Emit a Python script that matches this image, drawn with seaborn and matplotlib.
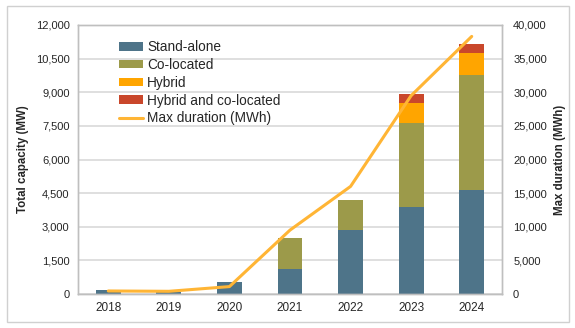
import numpy as np
import pandas as pd
import matplotlib
matplotlib.use("Agg")
import matplotlib.pyplot as plt
import seaborn as sns
from matplotlib.patches import Patch, Rectangle
from matplotlib.lines import Line2D
from matplotlib.ticker import FuncFormatter, MultipleLocator

years = ["2018", "2019", "2020", "2021", "2022", "2023", "2024"]
stand_alone = [160, 110, 520, 1130, 2860, 3880, 4640]
co_located = [0, 0, 0, 1380, 1340, 3750, 5130]
hybrid = [0, 0, 0, 0, 0, 890, 1000]
hybrid_co_located = [0, 0, 0, 0, 0, 420, 370]
max_duration = [450, 400, 1100, 9500, 16000, 29500, 38300]

series_names = ["Stand-alone", "Co-located", "Hybrid", "Hybrid and co-located"]
colors = ["#4E7489", "#9C9A4A", "#FFA500", "#C9472B"]
line_color = "#FFB535"

sns.set_theme(style="white")
plt.rcParams["font.family"] = ["Liberation Sans", "DejaVu Sans"]
txt = "#262626"

fig = plt.figure(figsize=(5.75, 3.28), dpi=100)
fig.patches.append(Rectangle((7 / 575, 6 / 328), 562 / 575, 316 / 328,
                             transform=fig.transFigure, fill=False,
                             edgecolor="#D0D0D0", linewidth=1.0))
ax = fig.add_axes([78 / 575, 34 / 328, 424 / 575, 269 / 328])

layers = [stand_alone, co_located, hybrid, hybrid_co_located]
cum = np.cumsum(np.array(layers, dtype=float), axis=0)
df = pd.DataFrame({"year": years})
for i in range(3, -1, -1):
    df["v"] = cum[i]
    sns.barplot(data=df, x="year", y="v", color=colors[i], saturation=1,
                width=0.41, ax=ax, linewidth=0)

ax.set_ylim(0, 12000)
ax.yaxis.set_major_locator(MultipleLocator(1500))
ax.yaxis.set_major_formatter(FuncFormatter(lambda v, p: f"{int(v):,}"))
ax.set_xlim(-0.5, len(years) - 0.5)
ax.grid(axis="y", color="#D9D9D9", linewidth=1.2)
ax.set_axisbelow(True)
ax.set_xlabel("")
ax.set_ylabel("Total capacity (MW)", fontsize=8.3, fontweight="bold", color=txt, labelpad=5)
ax.tick_params(axis="y", length=0, labelsize=8, colors=txt, pad=6)
ax.tick_params(axis="x", length=0, labelsize=8.5, colors=txt, pad=6)
for s in ax.spines.values():
    s.set_color("#BFBFBF")
    s.set_linewidth(1.0)

ax2 = ax.twinx()
sns.lineplot(x=np.arange(len(years)), y=max_duration, ax=ax2, color=line_color,
             linewidth=2.2)
ax2.set_ylim(0, 40000)
ax2.yaxis.set_major_locator(MultipleLocator(5000))
ax2.yaxis.set_major_formatter(FuncFormatter(lambda v, p: f"{int(v):,}"))
ax2.set_ylabel("Max duration (MWh)", fontsize=8.3, fontweight="bold", color=txt, labelpad=5)
ax2.tick_params(axis="y", length=0, labelsize=8, colors=txt, pad=8)
for s in ax2.spines.values():
    s.set_color("#BFBFBF")
    s.set_linewidth(1.0)

handles = [Patch(facecolor=c, edgecolor="none") for c in colors]
handles.append(Line2D([0], [0], color=line_color, linewidth=2.2))
ax2.legend(handles, series_names + ["Max duration (MWh)"], loc="upper left",
           bbox_to_anchor=(0.084, 0.964), frameon=False, fontsize=9.8,
           handlelength=1.75, handleheight=0.6, handletextpad=0.3,
           labelspacing=0.28, borderaxespad=0, labelcolor=txt)

fig.savefig("out.png", dpi=100)
